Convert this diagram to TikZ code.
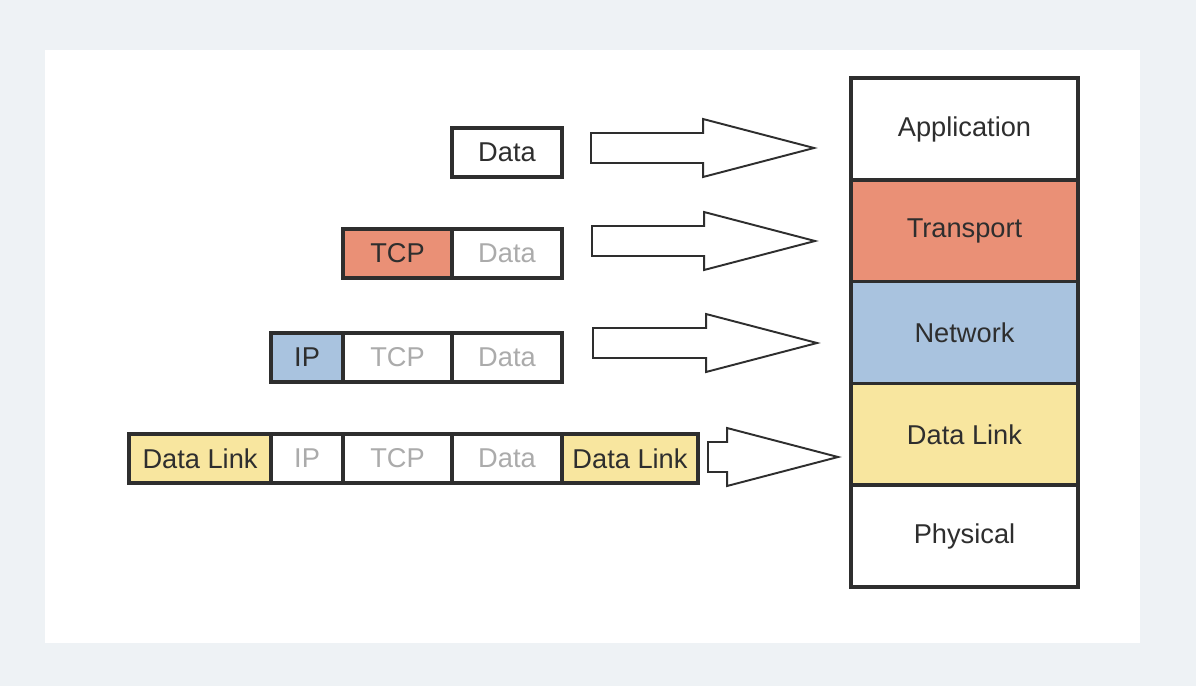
\documentclass[tikz,border=0pt]{standalone}
\usepackage{fontspec}
\setmainfont{Liberation Sans}
\usetikzlibrary{positioning,calc}

\definecolor{backdrop}{HTML}{EEF2F5}
\definecolor{darktext}{HTML}{2E2E2E}
\definecolor{greytext}{HTML}{ABABAB}
\definecolor{tcpred}{HTML}{EA9076}
\definecolor{ipblue}{HTML}{A9C3DF}
\definecolor{linkyellow}{HTML}{F8E69F}

\tikzset{
  field/.style={draw=darktext, line width=2pt, outer sep=0pt, inner sep=0pt,
    minimum height=0.98cm, text=darktext, font=\fontsize{15.5}{18}\selectfont},
  faded/.style={text=greytext},
  layer/.style={draw=darktext, line width=2pt, outer sep=0pt, inner sep=0pt,
    minimum width=4.54cm, minimum height=2.04cm, text=darktext,
    font=\fontsize{15.5}{18}\selectfont},
  block/.style={draw=darktext, line width=1.1pt, fill=white, line join=miter}
}

\begin{document}
\begin{tikzpicture}[x=0.02cm, y=-0.02cm]

\useasboundingbox (0,0) rectangle (1196,686);
\fill [backdrop] (0,0) rectangle (1196,686);
\fill [white] (45,50) rectangle (1140,643);

% protocol stack
\foreach \name/\col [count=\i] in {Application/white, Transport/tcpred,
    Network/ipblue, Data Link/linkyellow, Physical/white}
  \node [layer, fill=\col] (layer-\i) at (964.5,{129+(\i-1)*101.8}) {\name};

% packets
\node [field, minimum width=2.2cm] (data-1) at (507,152.5) {Data};

\node [field, faded, minimum width=2.2cm] (data-2) at (507,253.5) {Data};
\node [field, fill=tcpred, minimum width=2.18cm, left=0pt of data-2] (tcp-2) {TCP};

\node [field, faded, minimum width=2.2cm] (data-3) at (507,357.5) {Data};
\node [field, faded, minimum width=2.18cm, left=0pt of data-3] (tcp-3) {TCP};
\node [field, fill=ipblue, minimum width=1.44cm, left=0pt of tcp-3] (ip-3) {IP};

\node [field, faded, minimum width=2.2cm] (data-4) at (507,458.5) {Data};
\node [field, faded, minimum width=2.18cm, left=0pt of data-4] (tcp-4) {TCP};
\node [field, faded, minimum width=1.44cm, left=0pt of tcp-4] (ip-4) {IP};
\node [field, fill=linkyellow, minimum width=2.84cm, left=0pt of ip-4] (link-4) {Data Link};
\node [field, fill=linkyellow, minimum width=2.72cm, right=0pt of data-4] (trailer-4) {Data Link};

% block arrows
\foreach \r/\from/\a/\dy/\b in {1/data-1/29/-4.5/-37, 2/data-2/30/-12.5/-36,
    3/data-3/31/-14.5/-34, 4/trailer-4/10/-1.5/-13} {
  \coordinate (tail-\r) at ($(\from.east)+(\a,\dy)$);
  \coordinate (tip-\r) at ($(tail-\r -| layer-1.west)+(\b,0)$);
  \draw [block] ($(tail-\r)+(0,-15)$) -- ($(tip-\r)+(-111,-15)$)
    -- ($(tip-\r)+(-111,-29)$) -- (tip-\r) -- ($(tip-\r)+(-111,29)$)
    -- ($(tip-\r)+(-111,15)$) -- ($(tail-\r)+(0,15)$) -- cycle;
}

\end{tikzpicture}
\end{document}
